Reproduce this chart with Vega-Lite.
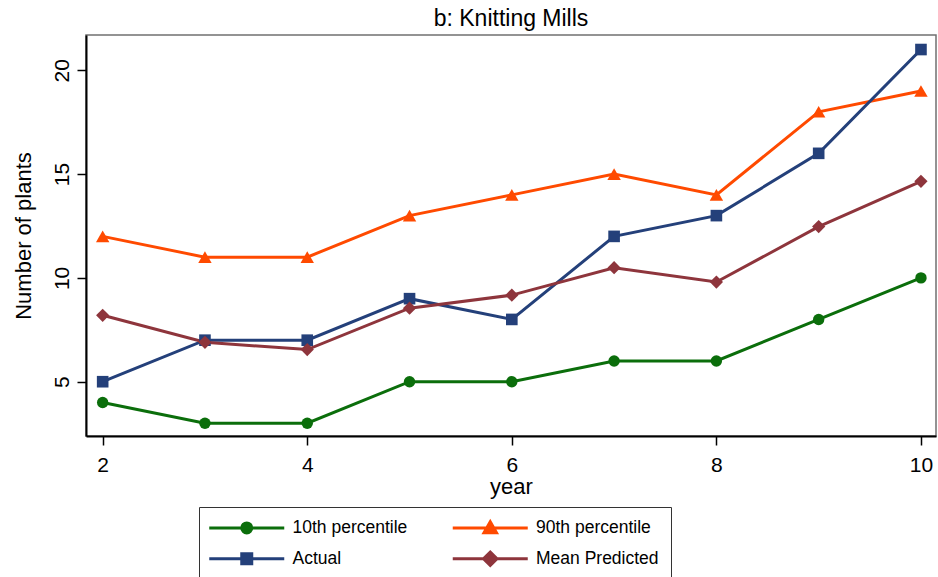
{
  "$schema": "https://vega.github.io/schema/vega-lite/v6.json",
  "autosize": "none",
  "padding": {"left": 86, "top": 35, "right": 2, "bottom": 141},
  "width": 850,
  "height": 401,
  "background": "white",
  "title": {
    "text": "b: Knitting Mills",
    "font": "Liberation Sans",
    "fontSize": 23,
    "fontWeight": "normal",
    "color": "black",
    "anchor": "middle",
    "offset": 4
  },
  "config": {
    "view": {"stroke": "#707070", "strokeWidth": 1.5},
    "axis": {
      "grid": false,
      "domainColor": "black",
      "domainWidth": 2,
      "tickColor": "black",
      "tickWidth": 1.5,
      "tickSize": 9,
      "labelFont": "Liberation Sans",
      "labelFontSize": 21,
      "labelColor": "black",
      "titleFont": "Liberation Sans",
      "titleFontSize": 22,
      "titleFontWeight": "normal",
      "titleColor": "black"
    }
  },
  "data": {
    "values": [
      {"year": 2, "series": "10th percentile", "value": 4},
      {"year": 3, "series": "10th percentile", "value": 3},
      {"year": 4, "series": "10th percentile", "value": 3},
      {"year": 5, "series": "10th percentile", "value": 5},
      {"year": 6, "series": "10th percentile", "value": 5},
      {"year": 7, "series": "10th percentile", "value": 6},
      {"year": 8, "series": "10th percentile", "value": 6},
      {"year": 9, "series": "10th percentile", "value": 8},
      {"year": 10, "series": "10th percentile", "value": 10},
      {"year": 2, "series": "90th percentile", "value": 12},
      {"year": 3, "series": "90th percentile", "value": 11},
      {"year": 4, "series": "90th percentile", "value": 11},
      {"year": 5, "series": "90th percentile", "value": 13},
      {"year": 6, "series": "90th percentile", "value": 14},
      {"year": 7, "series": "90th percentile", "value": 15},
      {"year": 8, "series": "90th percentile", "value": 14},
      {"year": 9, "series": "90th percentile", "value": 18},
      {"year": 10, "series": "90th percentile", "value": 19},
      {"year": 2, "series": "Actual", "value": 5},
      {"year": 3, "series": "Actual", "value": 7},
      {"year": 4, "series": "Actual", "value": 7},
      {"year": 5, "series": "Actual", "value": 9},
      {"year": 6, "series": "Actual", "value": 8},
      {"year": 7, "series": "Actual", "value": 12},
      {"year": 8, "series": "Actual", "value": 13},
      {"year": 9, "series": "Actual", "value": 16},
      {"year": 10, "series": "Actual", "value": 21},
      {"year": 2, "series": "Mean Predicted", "value": 8.2},
      {"year": 3, "series": "Mean Predicted", "value": 6.9},
      {"year": 4, "series": "Mean Predicted", "value": 6.55},
      {"year": 5, "series": "Mean Predicted", "value": 8.54},
      {"year": 6, "series": "Mean Predicted", "value": 9.17},
      {"year": 7, "series": "Mean Predicted", "value": 10.49},
      {"year": 8, "series": "Mean Predicted", "value": 9.8},
      {"year": 9, "series": "Mean Predicted", "value": 12.47},
      {"year": 10, "series": "Mean Predicted", "value": 14.65}
    ]
  },
  "encoding": {
    "x": {
      "field": "year",
      "type": "quantitative",
      "scale": {"domain": [1.837, 10.147], "nice": false, "zero": false},
      "axis": {"values": [2, 4, 6, 8, 10], "title": "year", "labelPadding": 9, "titlePadding": 1, "labelFlush": false}
    },
    "y": {
      "field": "value",
      "type": "quantitative",
      "scale": {"domain": [2.385, 21.7], "nice": false, "zero": false},
      "axis": {"values": [5, 10, 15, 20], "title": "Number of plants", "labelAngle": -90, "labelAlign": "center", "labelBaseline": "bottom", "labelPadding": 5, "titlePadding": 16, "labelFlush": false}
    },
    "color": {
      "field": "series",
      "type": "nominal",
      "scale": {
        "domain": ["10th percentile", "90th percentile", "Actual", "Mean Predicted"],
        "range": ["#0b6e0b", "#ff4a00", "#24407a", "#8e353c"]
      },
      "legend": {
        "title": null,
        "orient": "none",
        "legendX": 113,
        "legendY": 472,
        "direction": "horizontal",
        "columns": 2,
        "padding": 12,
        "strokeColor": "#333333",
        "fillColor": "white",
        "symbolSize": 100,
        "symbolStrokeWidth": 3,
        "symbolOffset": 27,
        "labelOffset": 37,
        "columnPadding": 38.5,
        "rowPadding": 7,
        "labelFont": "Liberation Sans",
        "labelFontSize": 17.5,
        "labelColor": "black",
        "labelLimit": 400,
        "encode": {
          "symbols": {
            "update": {
              "shape": {"signal": "datum.value === '10th percentile' ? 'M-7.5,0H7.5M-1,0A1,1,0,1,0,1,0A1,1,0,1,0,-1,0Z' : datum.value === '90th percentile' ? 'M-7.5,0H7.5M0,-1.25L1.25,0.95L-1.25,0.95Z' : datum.value === 'Actual' ? 'M-7.5,0H7.5M-1,-1H1V1H-1Z' : 'M-7.5,0H7.5M0,-1.35L1.35,0L0,1.35L-1.35,0Z'"},
              "fill": {"scale": "color", "field": "value"},
              "stroke": {"scale": "color", "field": "value"},
              "strokeWidth": {"value": 3},
              "opacity": {"value": 1},
              "fillOpacity": {"value": 1},
              "strokeOpacity": {"value": 1}
            }
          }
        }
      }
    }
  },
  "layer": [
    {
      "mark": {"type": "line", "strokeWidth": 3},
      "encoding": {}
    },
    {
      "transform": [{"filter": "datum.series === '10th percentile'"}],
      "mark": {"type": "point", "filled": true, "opacity": 1, "shape": "circle", "size": 130},
      "encoding": {}
    },
    {
      "transform": [{"filter": "datum.series === '90th percentile'"}],
      "mark": {"type": "point", "filled": true, "opacity": 1, "shape": "triangle-up", "size": 180},
      "encoding": {}
    },
    {
      "transform": [{"filter": "datum.series === 'Actual'"}],
      "mark": {"type": "point", "filled": true, "opacity": 1, "shape": "square", "size": 135},
      "encoding": {}
    },
    {
      "transform": [{"filter": "datum.series === 'Mean Predicted'"}],
      "mark": {"type": "point", "filled": true, "opacity": 1, "shape": "diamond", "size": 175},
      "encoding": {}
    }
  ]
}
